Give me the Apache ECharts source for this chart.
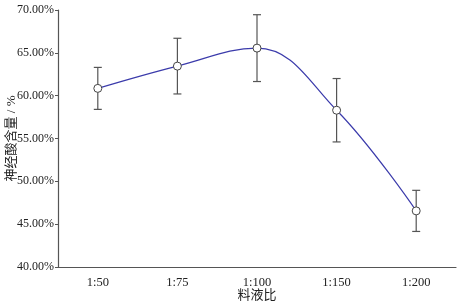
<!DOCTYPE html>
<html>
<head>
<meta charset="utf-8">
<script src="https://cdn.jsdelivr.net/npm/echarts@6/dist/echarts.min.js"></script>
<style>
html,body{margin:0;padding:0;background:#fff;}
#main{width:458px;height:308px;}
</style>
</head>
<body>
<div id="main"></div>
<script>
// 料液比 / 神经酸含量
var categories = ['1:50', '1:75', '1:100', '1:150', '1:200'];
var values = [60.85, 63.45, 65.55, 58.3, 46.55];
var errors = [2.45, 3.25, 3.9, 3.7, 2.4];
var yTicks = { min: 40, max: 70, step: 5 };

var font = '"Liberation Serif", "Noto Sans CJK SC", serif';

var errData = [];
for (var i = 0; i < values.length; i++) {
	errData.push([i, values[i] - errors[i], values[i] + errors[i]]);
}

/*误差棒*/
function renderErr(params, api) {
	var x = api.value(0);
	var lo = api.coord([x, api.value(1)]);
	var hi = api.coord([x, api.value(2)]);
	var w = 4;
	var st = { stroke: '#555', lineWidth: 1.2 };
	return {
		type: 'group',
		children: [
			{ type: 'line', shape: { x1: lo[0], y1: lo[1], x2: hi[0], y2: hi[1] }, style: st },
			{ type: 'line', shape: { x1: hi[0] - w, y1: hi[1], x2: hi[0] + w, y2: hi[1] }, style: st },
			{ type: 'line', shape: { x1: lo[0] - w, y1: lo[1], x2: lo[0] + w, y2: lo[1] }, style: st }
		]
	};
}

var myChart = echarts.init(document.getElementById('main'));
var option = {
	animation: false,
	grid: { left: 58, right: 2, top: 10, bottom: 41, containLabel: false, outerBoundsMode: 'none' },
	xAxis: {
		type: 'category',
		data: categories,
		name: '料液比',
		nameLocation: 'middle',
		nameGap: 22,
		nameMoveOverlap: false,
		nameTextStyle: { fontFamily: font, fontSize: 13, color: '#222' },
		axisLine: { lineStyle: { color: '#555', width: 1.2 } },
		axisTick: { inside: true, length: 4, lineStyle: { color: '#555' } },
		axisLabel: { fontFamily: font, fontSize: 12.5, color: '#222', margin: 9 }
	},
	yAxis: {
		type: 'value',
		min: yTicks.min,
		max: yTicks.max,
		interval: yTicks.step,
		name: '神经酸含量 / %',
		nameLocation: 'middle',
		nameGap: 40,
		nameRotate: 90,
		nameMoveOverlap: false,
		nameTextStyle: { fontFamily: font, fontSize: 13, color: '#222' },
		splitLine: { show: false },
		axisLine: { show: true, lineStyle: { color: '#555', width: 1.2 } },
		axisTick: { show: true, length: 3, lineStyle: { color: '#555' } },
		axisLabel: {
			fontFamily: font, fontSize: 12, color: '#222', margin: 4,
			formatter: function (v) { return v.toFixed(2) + '%'; }
		}
	},
	series: [
		{
			type: 'custom',
			renderItem: renderErr,
			data: errData,
			encode: { x: 0, y: [1, 2] },
			z: 1
		},
		{
			type: 'line',
			data: values,
			smooth: 0.4,
			symbol: 'circle',
			symbolSize: 8,
			lineStyle: { color: '#3b3bab', width: 1.2 },
			itemStyle: { color: '#fff', borderColor: '#444', borderWidth: 1 },
			z: 3
		}
	]
};
myChart.setOption(option);
</script>
</body>
</html>
